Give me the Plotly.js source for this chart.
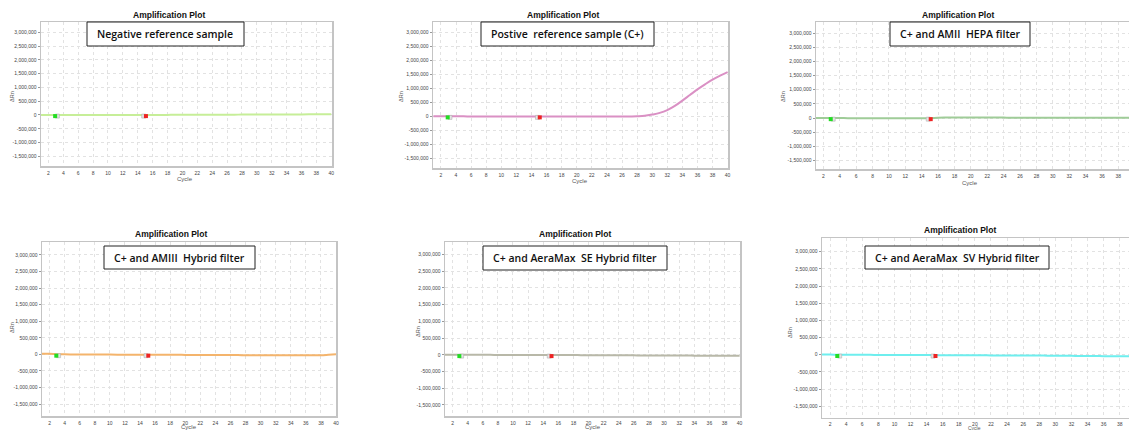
<!DOCTYPE html>
<html>
<head>
<meta charset="utf-8">
<script src="https://cdn.plot.ly/plotly-3.0.1.min.js"></script>
<style>html,body{margin:0;padding:0;background:#fff;}#chart{width:1129px;height:430px;}</style>
</head>
<body>
<div id="chart"></div>
<script>
// ---- data ----
const cycles = [1,2,3,4,5,6,7,8,9,10,11,12,13,14,15,16,17,18,19,20,21,22,23,24,25,26,27,28,29,30,31,32,33,34,35,36,37,38,39,40];
const panelLabels = ["Negative reference sample","Postive  reference sample (C+)","C+ and AMII  HEPA filter","C+ and AMIII  Hybrid filter","C+ and AeraMax  SE Hybrid filter","C+ and AeraMax  SV Hybrid filter"];
const negativeRn = [0,0,0,0,0,0,0,0,0,0,0,0,0,0,0,2000,3000,4000,5000,6000,7000,8000,9000,10000,11000,12000,13000,14000,15000,16000,17000,18000,19000,20000,21000,22000,23000,24000,25000,26000];
const positiveRn = [0,0,-2000,-3000,-4000,-5000,-6000,-7000,-8000,-9000,-10000,-10000,-11000,-12000,-12000,-12000,-13000,-13000,-13000,-13000,-13000,-13000,-13000,-12000,-11000,-10000,-6000,0,15000,60000,120000,220000,370000,560000,760000,960000,1140000,1310000,1450000,1580000];
const amiiHepaRn = [0,0,-2000,-3000,-4000,-5000,-6000,-7000,-8000,-9000,-10000,-10000,-10000,-10000,-8000,10000,15000,16000,16000,16000,15000,15000,14000,14000,13000,13000,12000,12000,11000,11000,10000,10000,9000,9000,8000,8000,7000,7000,6000,6000];
const amiiiHybridRn = [20000,15000,5000,0,-2000,-4000,-5000,-6000,-7000,-8000,-9000,-10000,-10000,-11000,-12000,-12000,-13000,-14000,-15000,-16000,-17000,-18000,-19000,-20000,-21000,-22000,-23000,-24000,-25000,-26000,-27000,-28000,-29000,-30000,-30000,-30000,-30000,-28000,-15000,0];
const seHybridRn = [0,0,-1000,-2000,-2000,-3000,-3000,-4000,-4000,-5000,-5000,-6000,-6000,-7000,-7000,-8000,-9000,-10000,-11000,-12000,-13000,-14000,-15000,-16000,-17000,-18000,-19000,-20000,-21000,-22000,-23000,-24000,-25000,-26000,-27000,-28000,-29000,-30000,-31000,-32000];
const svHybridRn = [5000,3000,0,-2000,-3000,-4000,-5000,-6000,-7000,-8000,-9000,-10000,-11000,-12000,-13000,-14000,-15000,-16000,-17000,-18000,-19000,-20000,-21000,-22000,-23000,-24000,-25000,-26000,-28000,-30000,-32000,-34000,-36000,-38000,-40000,-42000,-44000,-46000,-48000,-50000];
const baselineStart = [2.9];
const baselineEnd = [15.1];
const baselineMarkY = [-40000];
const xTickVals = [2,4,6,8,10,12,14,16,18,20,22,24,26,28,30,32,34,36,38,40];
const xTickText = ["2","4","6","8","10","12","14","16","18","20","22","24","26","28","30","32","34","36","38","40"];
const yTickVals = [-1500000,-1000000,-500000,0,500000,1000000,1500000,2000000,2500000,3000000];
const yTickText = ["-1,500,000","-1,000,000","-500,000","0","500,000","1,000,000","1,500,000","2,000,000","2,500,000","3,000,000"];

const series = [negativeRn, positiveRn, amiiHepaRn, amiiiHybridRn, seHybridRn, svHybridRn];
const colors = ["#c6ee98","#da90c4","#9fcc98","#f4b46c","#b8b8a8","#6eeeee"];

// ---- layout geometry (pixels) ----
const W = 1129, H = 430;
const boxes = [
  {l:41,r:332,t:22,b:166, xr:[1,40.1], yr:[-1850000,3373000], title:[169,15], ylab:[12,97], xlab:[185,179], xls:6, lab:[87,244,22,46]},
  {l:433,r:728,t:22,b:168, xr:[0.95,40.05], yr:[-1850000,3370000], title:[563,15], ylab:[401,97], xlab:[580,181], xls:6, lab:[481,654,22,46]},
  {l:816,r:1129,t:22,b:169, xr:[1.1,39.3], yr:[-1800000,3390000], title:[958,15], ylab:[783,97], xlab:[970,183], xls:6, lab:[890,1030,22,46]},
  {l:42,r:336,t:242,b:416, xr:[1,40], yr:[-1860000,3390000], title:[171,234], ylab:[12,328], xlab:[189,426.5], xls:6, lab:[104,255,246,269]},
  {l:445,r:740,t:242,b:416, xr:[1,40.05], yr:[-1830000,3370000], title:[575,234], ylab:[418,332], xlab:[593,426.5], xls:6, lab:[483,667,246,270]},
  {l:822,r:1129,t:238,b:417.5, xr:[1,39.15], yr:[-1830000,3400000], title:[960,230], ylab:[790,333], xlab:[975,427.6], xls:5, lab:[865,1049,246,269]}
];

const data = [];
const layout = {
  width: W, height: H,
  margin: {l:0,r:0,t:0,b:0},
  paper_bgcolor: "#fff", plot_bgcolor: "#fff",
  showlegend: false,
  font: {family: "Liberation Sans, Arial, sans-serif", color: "#333"},
  annotations: [], shapes: []
};

boxes.forEach((g, i) => {
  const n = i + 1;
  const xa = "x" + (n === 1 ? "" : n), ya = "y" + (n === 1 ? "" : n);
  const xk = "xaxis" + (n === 1 ? "" : n), yk = "yaxis" + (n === 1 ? "" : n);
  data.push({x: cycles, y: series[i], xaxis: xa, yaxis: ya, mode: "lines",
    line: {color: colors[i], width: 2, shape: "spline"}, hoverinfo: "skip"});
  // baseline markers (gray companion + colored)
  data.push({x: [baselineStart[0] + 0.3, baselineEnd[0] - 0.3], y: [baselineMarkY[0], baselineMarkY[0]], xaxis: xa, yaxis: ya,
    mode: "markers", marker: {symbol: "square", size: 4, color: "#e4e4e4", line: {color: "#b0b0b0", width: 0.6}}, hoverinfo: "skip"});
  data.push({x: [baselineStart[0], baselineEnd[0]], y: [baselineMarkY[0], baselineMarkY[0]], xaxis: xa, yaxis: ya,
    mode: "markers", marker: {symbol: "square", size: 4, color: ["#22dd22", "#ee2222"]}, hoverinfo: "skip"});

  layout[xk] = {
    domain: [g.l / W, g.r / W], anchor: ya, range: g.xr,
    tickvals: xTickVals, ticktext: xTickText, tickfont: {size: 5, color: "#444"},
    ticks: "", ticklabelstandoff: 1,
    showgrid: true, gridcolor: "#e2e2e2", griddash: "dot", gridwidth: 1,
    zeroline: false, showline: true, linecolor: "#c4c4c4", linewidth: 1.5, mirror: true,
    fixedrange: true
  };
  layout[yk] = {
    domain: [1 - g.b / H, 1 - g.t / H], anchor: xa, range: g.yr,
    tickvals: yTickVals, ticktext: yTickText, tickfont: {size: 5, color: "#444"},
    ticks: "outside", ticklen: 2, tickcolor: "#999",
    showgrid: true, gridcolor: "#e2e2e2", griddash: "dot", gridwidth: 1,
    zeroline: false, showline: true, linecolor: "#c4c4c4", linewidth: 1.5, mirror: true,
    fixedrange: true
  };
  // Title
  layout.annotations.push({xref: "paper", yref: "paper", x: g.title[0] / W, y: 1 - g.title[1] / H,
    xanchor: "center", yanchor: "middle", showarrow: false, text: "Amplification Plot",
    font: {size: 8.5, color: "#111", weight: "bold", family: "Liberation Sans, Arial, sans-serif"}});
  // y label
  layout.annotations.push({xref: "paper", yref: "paper", x: g.ylab[0] / W, y: 1 - g.ylab[1] / H,
    xanchor: "center", yanchor: "middle", showarrow: false, text: "ΔRn", textangle: -90,
    font: {size: 5.5, color: "#555"}});
  // x label
  layout.annotations.push({xref: "paper", yref: "paper", x: g.xlab[0] / W, y: 1 - g.xlab[1] / H,
    xanchor: "center", yanchor: "middle", showarrow: false, text: "Cycle",
    font: {size: g.xls, color: "#555"}});
  // label box
  const lb = g.lab;
  layout.shapes.push({type: "rect", xref: "paper", yref: "paper",
    x0: lb[0] / W, x1: lb[1] / W, y0: 1 - lb[3] / H, y1: 1 - lb[2] / H,
    line: {color: "#222", width: 1}, fillcolor: "#fff", layer: "above"});
  layout.annotations.push({xref: "paper", yref: "paper", x: (lb[0] + 8) / W, y: 1 - ((lb[2] + lb[3]) / 2) / H,
    xanchor: "left", yanchor: "middle", showarrow: false, text: panelLabels[i],
    font: {size: 10.5, color: "#111", weight: 600, family: "Open Sans, sans-serif"}});
});

Plotly.newPlot("chart", data, layout, {staticPlot: true, displayModeBar: false});
</script>
</body>
</html>
